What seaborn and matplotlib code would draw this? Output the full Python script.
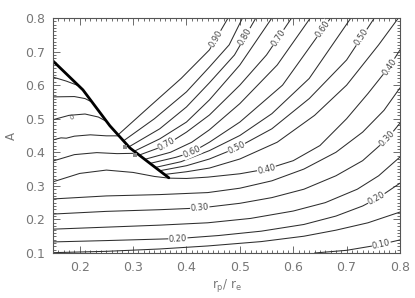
import numpy as np
import pandas as pd
import matplotlib
matplotlib.use("Agg")
import matplotlib.pyplot as plt
import seaborn as sns
from matplotlib.ticker import MultipleLocator

# ---- contour lines (x = r_p/r_e, y = A) ----
# lower family
c010_x = [0.64, 0.70, 0.76, 0.80]
c010_y = [0.100, 0.108, 0.124, 0.139]
c015_x = [0.15, 0.25, 0.35, 0.44, 0.54, 0.62, 0.68, 0.74, 0.80]
c015_y = [0.101, 0.105, 0.112, 0.121, 0.134, 0.150, 0.168, 0.190, 0.222]
c020_x = [0.15, 0.25, 0.384, 0.46, 0.54, 0.62, 0.68, 0.73, 0.76, 0.80]
c020_y = [0.133, 0.137, 0.143, 0.152, 0.165, 0.185, 0.210, 0.240, 0.265, 0.308]
c025_x = [0.15, 0.25, 0.35, 0.44, 0.52, 0.60, 0.66, 0.72, 0.76, 0.80]
c025_y = [0.171, 0.177, 0.183, 0.190, 0.203, 0.225, 0.250, 0.290, 0.330, 0.386]
c030_x = [0.15, 0.25, 0.35, 0.425, 0.50, 0.56, 0.62, 0.68, 0.73, 0.776, 0.80]
c030_y = [0.216, 0.224, 0.229, 0.234, 0.248, 0.265, 0.290, 0.330, 0.375, 0.440, 0.487]
c035_x = [0.15, 0.25, 0.35, 0.44, 0.50, 0.56, 0.62, 0.68, 0.73, 0.77, 0.80]
c035_y = [0.261, 0.270, 0.274, 0.280, 0.293, 0.315, 0.350, 0.400, 0.460, 0.525, 0.592]
c040_x = [0.15, 0.20, 0.25, 0.30, 0.34, 0.367, 0.40, 0.44, 0.50, 0.55, 0.60, 0.65, 0.70, 0.74, 0.78, 0.80]
c040_y = [0.312, 0.337, 0.347, 0.340, 0.328, 0.323, 0.322, 0.326, 0.336, 0.350, 0.375, 0.420, 0.500, 0.575, 0.655, 0.705]
# left family (ending on the thick boundary)
c045L_x = [0.15, 0.19, 0.232, 0.27, 0.306]
c045L_y = [0.374, 0.393, 0.399, 0.396, 0.397]
c050L_x = [0.15, 0.165, 0.175, 0.19, 0.22, 0.25, 0.273]
c050L_y = [0.437, 0.443, 0.442, 0.448, 0.452, 0.449, 0.449]
c055L_x = [0.15, 0.18, 0.21, 0.235, 0.25]
c055L_y = [0.497, 0.510, 0.514, 0.505, 0.492]
c060L_x = [0.15, 0.19, 0.21, 0.225]
c060L_y = [0.565, 0.566, 0.560, 0.548]
c065L_x = [0.15, 0.175, 0.20]
c065L_y = [0.624, 0.612, 0.597]
# upper-right family (starting on the thick boundary)
c045_x = [0.359, 0.40, 0.443, 0.50, 0.57, 0.64, 0.70, 0.76, 0.797]
c045_y = [0.334, 0.342, 0.353, 0.380, 0.430, 0.510, 0.600, 0.720, 0.800]
c050_x = [0.350, 0.40, 0.443, 0.494, 0.56, 0.63, 0.70, 0.752]
c050_y = [0.345, 0.360, 0.380, 0.413, 0.470, 0.560, 0.675, 0.800]
c055_x = [0.342, 0.39, 0.443, 0.50, 0.56, 0.63, 0.708]
c055_y = [0.355, 0.372, 0.405, 0.450, 0.515, 0.620, 0.800]
c060_x = [0.332, 0.38, 0.41, 0.443, 0.50, 0.58, 0.67]
c060_y = [0.367, 0.385, 0.400, 0.430, 0.490, 0.600, 0.800]
c065_x = [0.322, 0.37, 0.41, 0.443, 0.50, 0.57, 0.632]
c065_y = [0.379, 0.400, 0.430, 0.467, 0.545, 0.660, 0.800]
c070_x = [0.312, 0.36, 0.40, 0.443, 0.50, 0.55, 0.597]
c070_y = [0.392, 0.420, 0.460, 0.511, 0.600, 0.690, 0.800]
c075_x = [0.302, 0.35, 0.40, 0.443, 0.50, 0.56]
c075_y = [0.403, 0.440, 0.490, 0.556, 0.660, 0.800]
c080_x = [0.292, 0.35, 0.40, 0.443, 0.49, 0.530]
c080_y = [0.416, 0.470, 0.535, 0.607, 0.690, 0.800]
c085_x = [0.282, 0.34, 0.40, 0.443, 0.48, 0.505]
c085_y = [0.434, 0.500, 0.580, 0.654, 0.720, 0.800]
c090_x = [0.272, 0.33, 0.39, 0.443, 0.478]
c090_y = [0.452, 0.535, 0.620, 0.705, 0.800]
# thick boundary
edge_x = [0.15, 0.206, 0.2565, 0.294, 0.33, 0.367]
edge_y = [0.672, 0.586, 0.479, 0.413, 0.369, 0.324]
blob_x = [0.285, 0.303]
blob_y = [0.416, 0.392]

# contour labels
label_keys = ["c020", "c030", "c040", "c050", "c060", "c070",
              "c090", "c080", "c070", "c060", "c050", "c040", "c030", "c020", "c010"]
label_text = ["0.20", "0.30", "0.40", "0.50", "0.60", "0.70",
              "0.90", "0.80", "0.70", "0.60", "0.50", "0.40", "0.30", "0.20", "0.10"]
label_x = [0.384, 0.425, 0.55, 0.494, 0.41, 0.363,
           0.455, 0.51, 0.572, 0.655, 0.728, 0.78, 0.776, 0.756, 0.765]

lines = {
    "c010": (c010_x, c010_y), "c015": (c015_x, c015_y), "c020": (c020_x, c020_y),
    "c025": (c025_x, c025_y), "c030": (c030_x, c030_y), "c035": (c035_x, c035_y),
    "c040": (c040_x, c040_y),
    "c045L": (c045L_x, c045L_y), "c050L": (c050L_x, c050L_y), "c055L": (c055L_x, c055L_y),
    "c060L": (c060L_x, c060L_y), "c065L": (c065L_x, c065L_y),
    "c045": (c045_x, c045_y), "c050": (c050_x, c050_y), "c055": (c055_x, c055_y),
    "c060": (c060_x, c060_y), "c065": (c065_x, c065_y), "c070": (c070_x, c070_y),
    "c075": (c075_x, c075_y), "c080": (c080_x, c080_y), "c085": (c085_x, c085_y),
    "c090": (c090_x, c090_y),
}

sns.set_style("ticks")
plt.rcParams['font.family'] = ['DejaVu Sans']
fig = plt.figure(figsize=(4.15, 2.98), dpi=100)
ax = fig.add_axes([53 / 415, 45 / 298, 347 / 415, 235 / 298])

for key, (xs, ys) in lines.items():
    df = pd.DataFrame({"x": xs, "y": ys})
    sns.lineplot(data=df, x="x", y="y", sort=False, estimator=None,
                 color="#2e2e2e", lw=0.75, ax=ax)

sns.lineplot(x=edge_x, y=edge_y, sort=False, estimator=None, color="black", lw=2.0, ax=ax)
ax.scatter(blob_x, blob_y, marker="s", s=12, color="#888888", zorder=3, linewidths=0)

for key, txt, lx in zip(label_keys, label_text, label_x):
    xs, ys = lines[key]
    ly = np.interp(lx, xs, ys)
    y1 = np.interp(lx + 0.006, xs, ys)
    y0 = np.interp(lx - 0.006, xs, ys)
    ang = np.degrees(np.arctan2(y1 - y0, 0.012))
    ax.text(lx, ly, txt, fontsize=6, color="#444444", ha="center", va="center",
            rotation=ang, transform_rotates_text=True, rotation_mode="anchor",
            bbox=dict(fc="white", ec="none", pad=0.3), zorder=4)
ax.text(0.185, 0.503, "0", fontsize=5, color="#555555", ha="center", va="center",
        rotation=20, zorder=4)

ax.set_xlim(0.15, 0.8)
ax.set_ylim(0.1, 0.8)
ax.set_xticks([0.2, 0.3, 0.4, 0.5, 0.6, 0.7, 0.8])
ax.set_yticks([0.1, 0.2, 0.3, 0.4, 0.5, 0.6, 0.7, 0.8])
ax.xaxis.set_minor_locator(MultipleLocator(0.01))
ax.yaxis.set_minor_locator(MultipleLocator(0.01))
ax.tick_params(which="both", direction="in", top=True, right=True, color="#555555", width=0.6)
ax.tick_params(which="major", length=5, labelsize=9, labelcolor="#777777", pad=6)
ax.tick_params(which="minor", length=2.5)
for s in ax.spines.values():
    s.set_color("#555555")
    s.set_linewidth(0.8)
ax.set_xlabel(r"r$_\mathregular{p}$/ r$_\mathregular{e}$", fontsize=8.5, color="#777777", labelpad=2)
ax.set_ylabel("A", fontsize=8.5, color="#777777", labelpad=5)
fig.savefig("out.png", dpi=100)
